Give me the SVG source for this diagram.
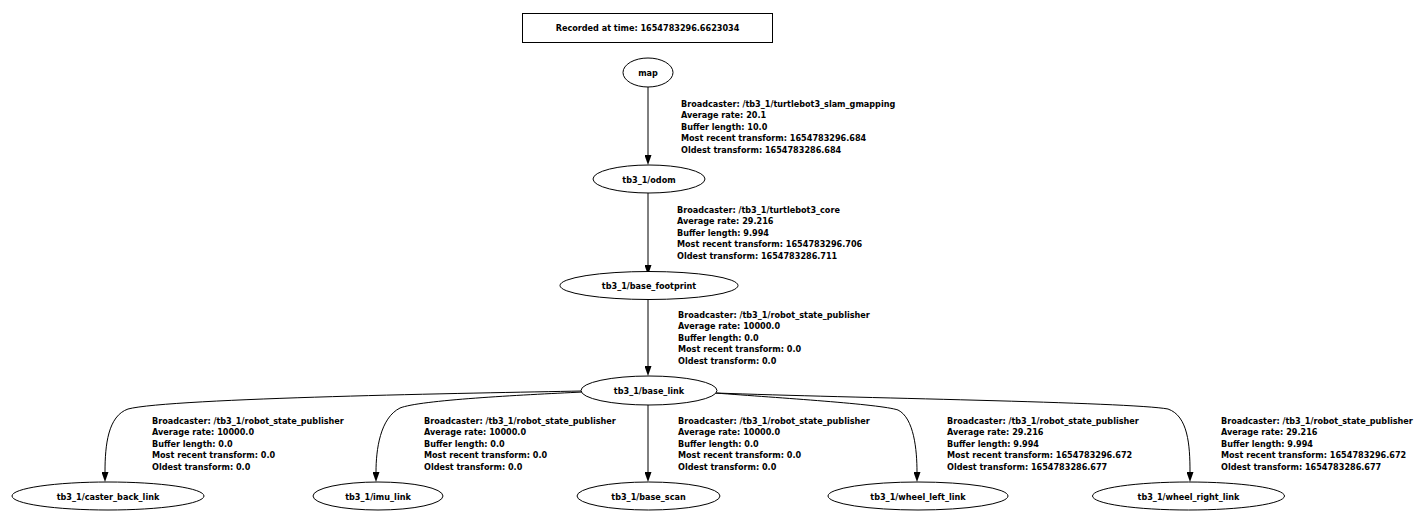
<svg xmlns="http://www.w3.org/2000/svg" width="1422" height="530" viewBox="0 0 1422 530">
<style>
text{font-family:"DejaVu Sans Condensed","DejaVu Sans","Liberation Sans",sans-serif;font-stretch:condensed;font-weight:bold;font-size:9px;fill:#000}
.c{text-anchor:middle}
.n{fill:#fff;stroke:#000;stroke-width:1}
.e{fill:none;stroke:#000;stroke-width:1}
</style>
<defs>
<marker id="ah" viewBox="0 0 10 7" refX="0" refY="3.5" markerWidth="10" markerHeight="7" markerUnits="userSpaceOnUse" orient="auto">
<path d="M0,0 L10,3.5 L0,7 z" fill="#000"/>
</marker>
</defs>
<rect width="1422" height="530" fill="#fff"/>
<g id="connectors">
<path class="e" d="M648,87 L648,155" marker-end="url(#ah)"/>
<path class="e" d="M648,193 L648,265" marker-end="url(#ah)"/>
<path class="e" d="M648,296 L648,366" marker-end="url(#ah)"/>
<path class="e" d="M648,405 L648,472" marker-end="url(#ah)"/>
<path class="e" d="M582,391 C480,393 170,398 128,409 C108,416 105,445 105,472" marker-end="url(#ah)"/>
<path class="e" d="M583,392 C520,395 420,400 400,408 C380,418 376,450 376,472" marker-end="url(#ah)"/>
<path class="e" d="M715,393 C780,398 880,404 898,410 C914,418 917,450 917,472" marker-end="url(#ah)"/>
<path class="e" d="M716,393 C850,398 1130,402 1168,409 C1188,416 1190,445 1190,472" marker-end="url(#ah)"/>
<g id="label_map_odom">
<text x="681" y="106.5">Broadcaster: /tb3_1/turtlebot3_slam_gmapping</text>
<text x="681" y="118">Average rate: 20.1</text>
<text x="681" y="129.5">Buffer length: 10.0</text>
<text x="681" y="141">Most recent transform: 1654783296.684</text>
<text x="681" y="152.5">Oldest transform: 1654783286.684</text>
</g>
<g id="label_odom_footprint">
<text x="677" y="212.5">Broadcaster: /tb3_1/turtlebot3_core</text>
<text x="677" y="224">Average rate: 29.216</text>
<text x="677" y="235.5">Buffer length: 9.994</text>
<text x="677" y="247">Most recent transform: 1654783296.706</text>
<text x="677" y="258.5">Oldest transform: 1654783286.711</text>
</g>
<g id="label_footprint_base">
<text x="678" y="317.5">Broadcaster: /tb3_1/robot_state_publisher</text>
<text x="678" y="329">Average rate: 10000.0</text>
<text x="678" y="340.5">Buffer length: 0.0</text>
<text x="678" y="352">Most recent transform: 0.0</text>
<text x="678" y="363.5">Oldest transform: 0.0</text>
</g>
<g id="label_caster">
<text x="152" y="423.5">Broadcaster: /tb3_1/robot_state_publisher</text>
<text x="152" y="435">Average rate: 10000.0</text>
<text x="152" y="446.5">Buffer length: 0.0</text>
<text x="152" y="458">Most recent transform: 0.0</text>
<text x="152" y="469.5">Oldest transform: 0.0</text>
</g>
<g id="label_imu">
<text x="424" y="423.5">Broadcaster: /tb3_1/robot_state_publisher</text>
<text x="424" y="435">Average rate: 10000.0</text>
<text x="424" y="446.5">Buffer length: 0.0</text>
<text x="424" y="458">Most recent transform: 0.0</text>
<text x="424" y="469.5">Oldest transform: 0.0</text>
</g>
<g id="label_scan">
<text x="678" y="423.5">Broadcaster: /tb3_1/robot_state_publisher</text>
<text x="678" y="435">Average rate: 10000.0</text>
<text x="678" y="446.5">Buffer length: 0.0</text>
<text x="678" y="458">Most recent transform: 0.0</text>
<text x="678" y="469.5">Oldest transform: 0.0</text>
</g>
<g id="label_wheel_left">
<text x="947" y="423.5">Broadcaster: /tb3_1/robot_state_publisher</text>
<text x="947" y="435">Average rate: 29.216</text>
<text x="947" y="446.5">Buffer length: 9.994</text>
<text x="947" y="458">Most recent transform: 1654783296.672</text>
<text x="947" y="469.5">Oldest transform: 1654783286.677</text>
</g>
<g id="label_wheel_right">
<text x="1221" y="423.5">Broadcaster: /tb3_1/robot_state_publisher</text>
<text x="1221" y="435">Average rate: 29.216</text>
<text x="1221" y="446.5">Buffer length: 9.994</text>
<text x="1221" y="458">Most recent transform: 1654783296.672</text>
<text x="1221" y="469.5">Oldest transform: 1654783286.677</text>
</g>
</g>
<g id="recorded">
<rect class="n" x="522.5" y="13.5" width="250" height="29"/>
<text class="c" x="647.5" y="31">Recorded at time: 1654783296.6623034</text>
</g>
<g id="map">
<ellipse class="n" cx="648" cy="72.5" rx="25" ry="14.5"/>
<text class="c" x="648" y="76">map</text>
</g>
<g id="odom">
<ellipse class="n" cx="649" cy="179" rx="56" ry="14"/>
<text class="c" x="649" y="182.5">tb3_1/odom</text>
</g>
<g id="base_footprint">
<ellipse class="n" cx="649" cy="285.5" rx="89" ry="14"/>
<text class="c" x="649" y="289">tb3_1/base_footprint</text>
</g>
<g id="base_link">
<ellipse class="n" cx="649" cy="390.5" rx="68" ry="14.5"/>
<text class="c" x="649" y="394">tb3_1/base_link</text>
</g>
<g id="caster_back_link">
<ellipse class="n" cx="108" cy="496" rx="96" ry="14"/>
<text class="c" x="108" y="499.5">tb3_1/caster_back_link</text>
</g>
<g id="imu_link">
<ellipse class="n" cx="378" cy="496" rx="65" ry="14"/>
<text class="c" x="378" y="499.5">tb3_1/imu_link</text>
</g>
<g id="base_scan">
<ellipse class="n" cx="648.5" cy="496" rx="71.5" ry="14"/>
<text class="c" x="648.5" y="499.5">tb3_1/base_scan</text>
</g>
<g id="wheel_left_link">
<ellipse class="n" cx="918" cy="496" rx="90" ry="14"/>
<text class="c" x="918" y="499.5">tb3_1/wheel_left_link</text>
</g>
<g id="wheel_right_link">
<ellipse class="n" cx="1188.5" cy="496" rx="96" ry="14"/>
<text class="c" x="1188.5" y="499.5">tb3_1/wheel_right_link</text>
</g>
</svg>
